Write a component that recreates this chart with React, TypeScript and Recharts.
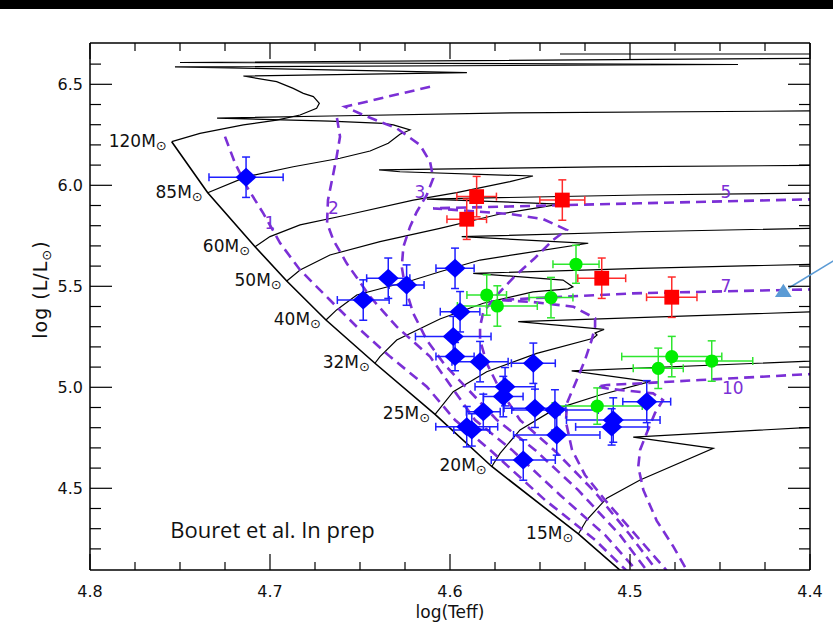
import React from 'react';
import { ComposedChart, XAxis, YAxis, Line, Scatter, ErrorBar } from 'recharts';

const FONT = "'DejaVu Sans', sans-serif";
const PURPLE = '#7b2fd6';

// axes
const X_DOMAIN = [4.4, 4.8];
const Y_DOMAIN = [4.0955, 6.7045];
const X_MAJOR = [4.8, 4.7, 4.6, 4.5, 4.4];
const X_TICKS = [4.8, 4.775, 4.75, 4.725, 4.7, 4.675, 4.65, 4.625, 4.6, 4.575, 4.55, 4.525, 4.5, 4.475, 4.45, 4.425, 4.4];
const Y_MAJOR = [4.5, 5.0, 5.5, 6.0, 6.5];
const Y_TICKS = [4.2, 4.3, 4.4, 4.5, 4.6, 4.7, 4.8, 4.9, 5.0, 5.1, 5.2, 5.3, 5.4, 5.5, 5.6, 5.7, 5.8, 5.9, 6.0, 6.1, 6.2, 6.3, 6.4, 6.5, 6.6];

// ZAMS, one point per initial mass
const MASSES = ['120', '85', '60', '50', '40', '32', '25', '20', '15'];
const ZAMS_TEFF = [4.7546, 4.7346, 4.7083, 4.6907, 4.6689, 4.6417, 4.6083, 4.5768, 4.5287];
const ZAMS_LOGL = [6.216, 5.963, 5.696, 5.526, 5.333, 5.119, 4.866, 4.608, 4.274];
const ZAMS_END = [4.5044, 4.0856];

// evolutionary tracks [logTeff, logL]
const TRACK_120 = [[4.7546, 6.216], [4.7389, 6.257], [4.7148, 6.299], [4.6963, 6.323], [4.6833, 6.348], [4.6741, 6.381], [4.6726, 6.406], [4.6759, 6.439], [4.6815, 6.455], [4.6871, 6.48], [4.6963, 6.513], [4.7148, 6.541], [4.5906, 6.558], [4.7528, 6.586], [4.44, 6.598], [4.75, 6.608], [4.3778, 6.63], [4.3778, 6.65], [4.5389, 6.65]];
const TRACK_85 = [[4.7346, 5.963], [4.7129, 6.043], [4.6871, 6.092], [4.6611, 6.134], [4.6444, 6.17], [4.6343, 6.208], [4.6278, 6.253], [4.6222, 6.274], [4.6315, 6.299], [4.6371, 6.307], [4.6667, 6.318], [4.7294, 6.333], [4.6667, 6.343], [4.5667, 6.359], [4.4, 6.368], [4.3778, 6.369]];
const TRACK_60 = [[4.7083, 5.696], [4.7, 5.746], [4.6833, 5.804], [4.6574, 5.853], [4.6204, 5.927], [4.5963, 5.964], [4.5667, 6.018], [4.5539, 6.046], [4.6278, 6.067], [4.6394, 6.076], [4.5167, 6.091], [4.3778, 6.1]];
const TRACK_50 = [[4.6907, 5.526], [4.6833, 5.581], [4.6667, 5.655], [4.6389, 5.721], [4.6056, 5.787], [4.5722, 5.858], [4.5389, 5.907], [4.6128, 5.932], [4.4944, 5.952], [4.3778, 5.964]];
const TRACK_40 = [[4.6689, 5.333], [4.663, 5.383], [4.6518, 5.457], [4.6204, 5.531], [4.6056, 5.572], [4.5833, 5.63], [4.5232, 5.713], [4.5935, 5.746], [4.4944, 5.77], [4.3778, 5.791]];
const TRACK_32 = [[4.6417, 5.119], [4.6389, 5.152], [4.6296, 5.234], [4.6056, 5.338], [4.5815, 5.416], [4.5539, 5.472], [4.5344, 5.487], [4.5317, 5.497], [4.5372, 5.531], [4.5871, 5.564], [4.4944, 5.589], [4.3778, 5.613]];
const TRACK_25 = [[4.6083, 4.866], [4.5982, 4.978], [4.5796, 5.077], [4.5518, 5.168], [4.5204, 5.243], [4.5183, 5.259], [4.5194, 5.269], [4.5144, 5.287], [4.5621, 5.325], [4.3778, 5.38]];
const TRACK_20 = [[4.5768, 4.608], [4.5722, 4.673], [4.5611, 4.789], [4.5426, 4.888], [4.5167, 4.962], [4.4889, 5.028], [4.5324, 5.081], [4.3778, 5.138]];
const TRACK_15 = [[4.5287, 4.274], [4.5241, 4.343], [4.5129, 4.451], [4.4944, 4.541], [4.4537, 4.698], [4.4982, 4.753], [4.3778, 4.813]];

// isochrones (Myr)
const ISO_1 = [[4.725, 6.241], [4.7194, 6.109], [4.7129, 5.993], [4.7037, 5.861], [4.6944, 5.714], [4.6833, 5.581], [4.6667, 5.432], [4.6518, 5.3], [4.6333, 5.152], [4.6129, 5.003], [4.5972, 4.838], [4.5778, 4.69], [4.5472, 4.442], [4.5194, 4.244], [4.5011, 4.085]];
const ISO_2 = [[4.6628, 6.333], [4.6611, 6.241], [4.6633, 6.125], [4.6648, 6.059], [4.6678, 5.927], [4.6683, 5.813], [4.6648, 5.729], [4.6574, 5.614], [4.6444, 5.449], [4.6296, 5.3], [4.6111, 5.152], [4.5861, 4.838], [4.5656, 4.69], [4.5389, 4.467], [4.5139, 4.269], [4.4956, 4.085]];
const ISO_3 = [[4.6111, 6.488], [4.6583, 6.389], [4.6482, 6.348], [4.6296, 6.282], [4.6167, 6.2], [4.6111, 6.117], [4.6093, 6.035], [4.6129, 5.952], [4.6185, 5.868], [4.6222, 5.795], [4.6259, 5.696], [4.6268, 5.597], [4.625, 5.498], [4.6204, 5.366], [4.6129, 5.234], [4.6028, 5.11], [4.5739, 4.838], [4.5528, 4.69], [4.5289, 4.492], [4.5056, 4.269], [4.49, 4.085]];
const ISO_5 = [[4.3778, 5.935], [4.4944, 5.911], [4.5722, 5.894], [4.6094, 5.886], [4.5889, 5.873], [4.5667, 5.858], [4.5483, 5.833], [4.5352, 5.779], [4.5428, 5.729], [4.5528, 5.64], [4.5639, 5.551], [4.5739, 5.457], [4.5815, 5.373], [4.5833, 5.3], [4.5833, 5.234], [4.5796, 5.119], [4.5722, 4.987], [4.5611, 4.838], [4.5411, 4.68], [4.5194, 4.48], [4.5, 4.269], [4.4844, 4.085]];
const ISO_7 = [[4.3778, 5.489], [4.4983, 5.465], [4.5539, 5.441], [4.5722, 5.432], [4.5539, 5.422], [4.5315, 5.399], [4.5194, 5.342], [4.5194, 5.3], [4.5213, 5.234], [4.525, 5.135], [4.5296, 5.036], [4.535, 4.922], [4.5356, 4.828], [4.5322, 4.69], [4.525, 4.566], [4.5139, 4.442], [4.4944, 4.244], [4.4789, 4.085]];
const ISO_10 = [[4.3778, 5.076], [4.4611, 5.036], [4.4872, 5.023], [4.5129, 5.011], [4.5185, 5.003], [4.5111, 4.992], [4.4872, 4.97], [4.4817, 4.937], [4.4861, 4.873], [4.4907, 4.774], [4.4944, 4.69], [4.4954, 4.607], [4.4926, 4.492], [4.4852, 4.34], [4.4759, 4.211], [4.4678, 4.085]];
const ISO_LABELS = ['1', '2', '3', '5', '7', '10'];
const ISO_LABEL_TEFF = [4.7, 4.6648, 4.6167, 4.4467, 4.4467, 4.4429];
const ISO_LABEL_LOGL = [5.812, 5.886, 5.968, 5.968, 5.5015, 4.998];

// stars [logTeff, logL, err logTeff, err logL]
const BLUE = [[4.7133, 6.04, 0.0206, 0.1], [4.6343, 5.54, 0.012, 0.1], [4.6241, 5.506, 0.0097, 0.1], [4.6482, 5.432, 0.0144, 0.1], [4.5972, 5.589, 0.0106, 0.1], [4.5944, 5.374, 0.011, 0.1], [4.5982, 5.251, 0.021, 0.1], [4.5972, 5.152, 0.0106, 0.07], [4.5833, 5.127, 0.0156, 0.1], [4.5537, 5.119, 0.0122, 0.1], [4.5694, 5.003, 0.0167, 0.095], [4.5704, 4.954, 0.011, 0.1], [4.5528, 4.896, 0.0172, 0.095], [4.5417, 4.888, 0.024, 0.1], [4.5815, 4.879, 0.0094, 0.087], [4.5907, 4.805, 0.0172, 0.1], [4.5879, 4.789, 0.01, 0.08], [4.5407, 4.764, 0.024, 0.1], [4.5593, 4.64, 0.0178, 0.1], [4.5093, 4.838, 0.026, 0.11], [4.5102, 4.804, 0.02, 0.09], [4.4907, 4.929, 0.0133, 0.104]];
const RED = [[4.5852, 5.944, 0.011, 0.1], [4.5376, 5.927, 0.0125, 0.1], [4.5907, 5.832, 0.011, 0.1], [4.5157, 5.54, 0.0133, 0.1], [4.4768, 5.446, 0.014, 0.1]];
const GREEN = [[4.53, 5.609, 0.0128, 0.094], [4.5796, 5.457, 0.011, 0.1], [4.5737, 5.4025, 0.0222, 0.1], [4.5439, 5.444, 0.0122, 0.1], [4.4768, 5.152, 0.0278, 0.1], [4.4843, 5.094, 0.0139, 0.1], [4.4546, 5.13, 0.0228, 0.1], [4.5182, 4.907, 0.025, 0.09]];
const TRIANGLE = [[4.4148, 5.473]];
const NOTE = 'Bouret et al. In prep';
const NOTE_POS = [4.6986, 4.2936];

const TRACKS = [TRACK_120, TRACK_85, TRACK_60, TRACK_50, TRACK_40, TRACK_32, TRACK_25, TRACK_20, TRACK_15];
const ISOCHRONES = [ISO_1, ISO_2, ISO_3, ISO_5, ISO_7, ISO_10];

const toPts = (a: number[][]) => a.map(([x, y]) => ({ x, y }));
const toStars = (a: number[][]) => a.map(([x, y, ex, ey]) => ({ x, y, ex, ey }));
const zamsLine = [...ZAMS_TEFF.map((t, i) => ({ x: t, y: ZAMS_LOGL[i] })), { x: ZAMS_END[0], y: ZAMS_END[1] }];
const massPts = MASSES.map((m, i) => ({ x: ZAMS_TEFF[i], y: ZAMS_LOGL[i], m }));
const isoLabelPts = ISO_LABELS.map((t, i) => ({ x: ISO_LABEL_TEFF[i], y: ISO_LABEL_LOGL[i], t }));

const isMajor = (v: number, list: number[]) => list.some((m) => Math.abs(m - v) < 1e-6);

const BottomTick = ({ x, y, payload }: any) => {
  const major = isMajor(payload.value, X_MAJOR);
  return (
    <g>
      <line x1={x} x2={x} y1={y} y2={y - (major ? 16 : 8)} stroke="#000" strokeWidth={1.2} />
      {major && (
        <text x={x} y={y + 27} textAnchor="middle" fontFamily={FONT} fontSize={16} fill="#111">
          {payload.value.toFixed(1)}
        </text>
      )}
    </g>
  );
};
const TopTick = ({ x, y, payload }: any) => {
  const major = isMajor(payload.value, X_MAJOR);
  return <line x1={x} x2={x} y1={y} y2={y + (major ? 16 : 8)} stroke="#000" strokeWidth={1.2} />;
};
const LeftTick = ({ x, y, payload }: any) => {
  const major = isMajor(payload.value, Y_MAJOR);
  return (
    <g>
      <line x1={x} x2={x + (major ? 22 : 11)} y1={y} y2={y} stroke="#000" strokeWidth={1.2} />
      {major && (
        <text x={x - 7} y={y + 6} textAnchor="end" fontFamily={FONT} fontSize={16} fill="#111">
          {payload.value.toFixed(1)}
        </text>
      )}
    </g>
  );
};
const RightTick = ({ x, y, payload }: any) => {
  const major = isMajor(payload.value, Y_MAJOR);
  return <line x1={x} x2={x - (major ? 22 : 11)} y1={y} y2={y} stroke="#000" strokeWidth={1.2} />;
};

const Diamond = ({ cx, cy }: any) => (
  <path d={`M${cx},${cy - 9.5}L${cx + 10.5},${cy}L${cx},${cy + 9.5}L${cx - 10.5},${cy}Z`} fill="#0000ff" />
);
const Square = ({ cx, cy }: any) => <rect x={cx - 7.4} y={cy - 7.4} width={14.8} height={14.8} fill="#ff0000" />;
const Dot = ({ cx, cy }: any) => <circle cx={cx} cy={cy} r={6.6} fill="#00ee00" />;
const Triangle = ({ cx, cy }: any) => (
  <g>
    <line x1={cx + 5} y1={cy - 3.5} x2={cx + 62} y2={cy - 38} stroke="#5b9bd5" strokeWidth={1.5} />
    <path d={`M${cx},${cy - 8}L${cx + 8.4},${cy + 5.3}L${cx - 8.4},${cy + 5.3}Z`} fill="#5b9bd5" />
  </g>
);
const MassLabel = ({ cx, cy, payload }: any) => (
  <text x={cx - 5} y={cy + 5} textAnchor="end" fontFamily={FONT} fontSize={17} fill="#111">
    {payload.m}M
    <tspan fontSize={13} dy={3}>⊙</tspan>
  </text>
);
const IsoLabel = ({ cx, cy, payload }: any) => (
  <text x={cx} y={cy + 6} textAnchor="middle" fontFamily={FONT} fontSize={17} fill={PURPLE}>
    {payload.t}
  </text>
);
const NoteLabel = ({ cx, cy }: any) => (
  <text x={cx} y={cy + 8} textAnchor="middle" fontFamily="'Open Sans', sans-serif" fontSize={22} fill="#111">
    {NOTE}
  </text>
);

const YTitle = ({ viewBox }: any) => (
  <text
    transform={`translate(${viewBox.x + 47},${viewBox.y + viewBox.height / 2 - 17}) rotate(-90)`}
    textAnchor="middle"
    fontFamily={FONT}
    fontSize={19}
    letterSpacing={1}
    fill="#111"
  >
    log (L/L<tspan fontSize={13} dy={4}>⊙</tspan>
    <tspan dy={-4}>)</tspan>
  </text>
);
const XTitle = ({ viewBox }: any) => (
  <text x={viewBox.x + viewBox.width / 2} y={viewBox.y + 48} textAnchor="middle" fontFamily={FONT} fontSize={17} fill="#111">
    log(Teff)
  </text>
);

export default function App() {
  const axisLine = { stroke: '#000', strokeWidth: 1.5 };
  return (
    <div style={{ position: 'absolute', left: 0, top: 0, width: 833, height: 636, background: '#fff', overflow: 'hidden' }}>
      <ComposedChart width={833} height={636} margin={{ top: 42, right: 22, bottom: 0, left: 0 }}>
        <XAxis xAxisId="main" dataKey="x" type="number" domain={X_DOMAIN} reversed allowDataOverflow ticks={X_TICKS} interval={0}
          tick={<BottomTick />} tickLine={false} tickSize={0} tickMargin={0} axisLine={axisLine} height={66} label={{ content: XTitle }} />
        <XAxis xAxisId="top" dataKey="x" orientation="top" type="number" domain={X_DOMAIN} reversed allowDataOverflow ticks={X_TICKS} interval={0}
          tick={<TopTick />} tickLine={false} tickSize={0} tickMargin={0} axisLine={axisLine} height={1} />
        <YAxis yAxisId="main" dataKey="y" type="number" domain={Y_DOMAIN} allowDataOverflow ticks={Y_TICKS} interval={0}
          tick={<LeftTick />} tickLine={false} tickSize={0} tickMargin={0} axisLine={axisLine} width={90} label={{ content: YTitle }} />
        <YAxis yAxisId="right" dataKey="y" orientation="right" type="number" domain={Y_DOMAIN} allowDataOverflow ticks={Y_TICKS} interval={0}
          tick={<RightTick />} tickLine={false} tickSize={0} tickMargin={0} axisLine={axisLine} width={1} />
        <XAxis xAxisId="pts" dataKey="x" type="number" domain={X_DOMAIN} reversed hide />
        <YAxis yAxisId="pts" dataKey="y" type="number" domain={Y_DOMAIN} hide />

        <Line data={zamsLine} dataKey="y" xAxisId="main" yAxisId="main" stroke="#000" strokeWidth={1.6} dot={false} activeDot={false} isAnimationActive={false} />
        {TRACKS.map((t, i) => (
          <Line key={'t' + i} data={toPts(t)} dataKey="y" xAxisId="main" yAxisId="main" stroke="#000" strokeWidth={1.2}
            dot={false} activeDot={false} isAnimationActive={false} />
        ))}
        {ISOCHRONES.map((t, i) => (
          <Line key={'i' + i} data={toPts(t)} dataKey="y" xAxisId="top" yAxisId="right" stroke={PURPLE} strokeWidth={2.6}
            strokeDasharray="10 6" dot={false} activeDot={false} isAnimationActive={false} />
        ))}

        <Scatter data={massPts} xAxisId="pts" yAxisId="pts" shape={MassLabel} isAnimationActive={false} />
        <Scatter data={isoLabelPts} xAxisId="pts" yAxisId="pts" shape={IsoLabel} isAnimationActive={false} />
        <Scatter data={[{ x: NOTE_POS[0], y: NOTE_POS[1] }]} xAxisId="pts" yAxisId="pts" shape={NoteLabel} isAnimationActive={false} />

        <Scatter data={toStars(BLUE)} xAxisId="pts" yAxisId="pts" shape={Diamond} isAnimationActive={false}>
          <ErrorBar dataKey="ex" direction="x" width={4} stroke="#1f1fff" strokeWidth={1.5} />
          <ErrorBar dataKey="ey" direction="y" width={4} stroke="#1f1fff" strokeWidth={1.5} />
        </Scatter>
        <Scatter data={toStars(GREEN)} xAxisId="pts" yAxisId="pts" shape={Dot} isAnimationActive={false}>
          <ErrorBar dataKey="ex" direction="x" width={4} stroke="#2ee62e" strokeWidth={1.5} />
          <ErrorBar dataKey="ey" direction="y" width={4} stroke="#2ee62e" strokeWidth={1.5} />
        </Scatter>
        <Scatter data={toStars(RED)} xAxisId="pts" yAxisId="pts" shape={Square} isAnimationActive={false}>
          <ErrorBar dataKey="ex" direction="x" width={4} stroke="#ff2b2b" strokeWidth={1.5} />
          <ErrorBar dataKey="ey" direction="y" width={4} stroke="#ff2b2b" strokeWidth={1.5} />
        </Scatter>
        <Scatter data={toPts(TRIANGLE)} xAxisId="pts" yAxisId="pts" shape={Triangle} isAnimationActive={false} />
      </ComposedChart>
      <div style={{ position: 'absolute', left: 0, top: 0, width: 833, height: 9, background: '#000' }} />
    </div>
  );
}
